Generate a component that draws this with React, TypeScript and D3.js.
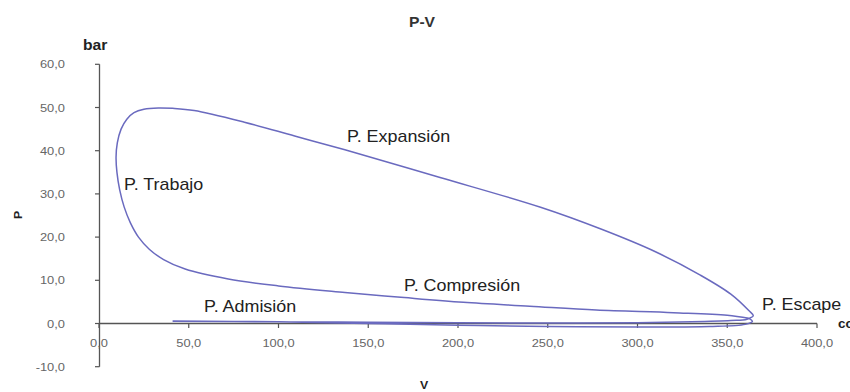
import React from 'react';
import * as d3 from 'd3';

// P-V diagram data (V in cc, P in bar)
const compressionV = [362, 350, 320, 277, 240, 203, 170, 137, 100, 72, 48, 36, 28, 22, 17.5, 14, 11.5, 10];
const compressionP = [1.2, 1.9, 2.5, 3.1, 4.0, 4.9, 6.0, 7.2, 8.7, 10.3, 12.6, 14.8, 17.2, 20, 23.3, 27, 31, 35];

const combustionV = [9.5, 10.2, 12.3, 15.5, 19.5, 25, 33, 41];
const combustionP = [38.5, 41.8, 45, 47.3, 48.8, 49.6, 49.9, 49.8];

const expansionV = [53, 81, 109, 137, 190, 246, 280, 310, 335, 352, 362, 364.5, 361];
const expansionP = [49.3, 46.6, 43.4, 40.2, 33.8, 26.9, 21.8, 16.6, 11.2, 6.8, 3.0, 1.8, 1.0];

const exhaustV = [352, 330, 300, 250, 200, 150, 100, 41];
const exhaustP = [0.7, 0.4, 0.2, 0.1, 0.2, 0.3, 0.4, 0.5];

const intakeV = [100, 150, 200, 250, 300, 340, 360, 364, 362];
const intakeP = [0.4, 0.0, -0.4, -0.7, -0.8, -0.7, -0.2, 0.5, 1.2];

const xTicks = [0, 50, 100, 150, 200, 250, 300, 350, 400];
const yTicks = [-10, 0, 10, 20, 30, 40, 50, 60];

const labels = [
  { text: 'P. Expansión', x: 347, y: 141.5 },
  { text: 'P. Trabajo', x: 124, y: 190 },
  { text: 'P. Compresión', x: 404, y: 290.5 },
  { text: 'P. Admisión', x: 204, y: 311.5 },
  { text: 'P. Escape', x: 762, y: 310 },
];

const W = 850;
const H = 392;
const SX = 1.12; // text in the picture is slightly stretched

const fmt = (v: number) => v.toFixed(1).replace('.', ',');

const T = ({ x, y, children, anchor = 'start', size = 12, weight = 'normal', fill = '#222', rotate = 0 }: any) => (
  <text
    transform={`translate(${x},${y}) rotate(${rotate}) scale(${SX},1)`}
    textAnchor={anchor}
    fontSize={size}
    fontWeight={weight}
    fill={fill}
  >
    {children}
  </text>
);

export default function App() {
  const x = d3.scaleLinear().domain([0, 400]).range([99, 817]);
  const y = d3.scaleLinear().domain([-10, 60]).range([366.7, 64.3]);

  const toPts = (vs: number[], ps: number[]) => vs.map((v, i) => [v, ps[i]] as [number, number]);
  const cycle = [
    ...toPts(compressionV, compressionP),
    ...toPts(combustionV, combustionP),
    ...toPts(expansionV, expansionP),
    ...toPts(exhaustV, exhaustP),
    ...toPts(intakeV, intakeP),
  ];

  const line = d3
    .line<[number, number]>()
    .x((d) => x(d[0]))
    .y((d) => y(d[1]))
    .curve(d3.curveCatmullRom.alpha(0.5));

  const y0 = y(0);

  return (
    <svg
      width={W}
      height={H}
      style={{ position: 'absolute', left: 0, top: 0, background: '#fff' }}
      fontFamily="'Liberation Sans', Arial, sans-serif"
    >
      {/* titles */}
      <T x={422} y={27} anchor="middle" size={14} weight="bold" fill="#333">P-V</T>
      <T x={83} y={50} size={14} weight="bold" fill="#222">bar</T>
      <T x={22} y={215} anchor="middle" size={11} weight="bold" fill="#222" rotate={-90}>P</T>
      <T x={424} y={389} anchor="middle" size={11} weight="bold" fill="#222">V</T>
      <T x={838} y={328} size={12} weight="bold" fill="#222">cc</T>

      {/* y axis */}
      <line x1={99.5} x2={99.5} y1={y(60)} y2={y(-10)} stroke="#555" strokeWidth={1.3} />
      {yTicks.map((t) => (
        <g key={t}>
          <line x1={95} x2={99.5} y1={y(t)} y2={y(t)} stroke="#555" strokeWidth={1.2} />
          <T x={65} y={y(t) + 4} anchor="end" size={11.5} fill="#666">{fmt(t)}</T>
        </g>
      ))}

      {/* x axis */}
      <line x1={x(0)} x2={x(400)} y1={y0} y2={y0} stroke="#555" strokeWidth={1.3} />
      {xTicks.map((t) => (
        <g key={t}>
          <line x1={x(t)} x2={x(t)} y1={y0} y2={y0 + 4.5} stroke="#555" strokeWidth={1.2} />
          <T x={x(t)} y={347} anchor="middle" size={11.5} fill="#666">{fmt(t)}</T>
        </g>
      ))}

      {/* cycle */}
      <path d={line(cycle) || ''} fill="none" stroke="#6a6abf" strokeWidth={1.5} />

      {labels.map((l) => (
        <T key={l.text} x={l.x} y={l.y} size={16} fill="#222">{l.text}</T>
      ))}
    </svg>
  );
}
